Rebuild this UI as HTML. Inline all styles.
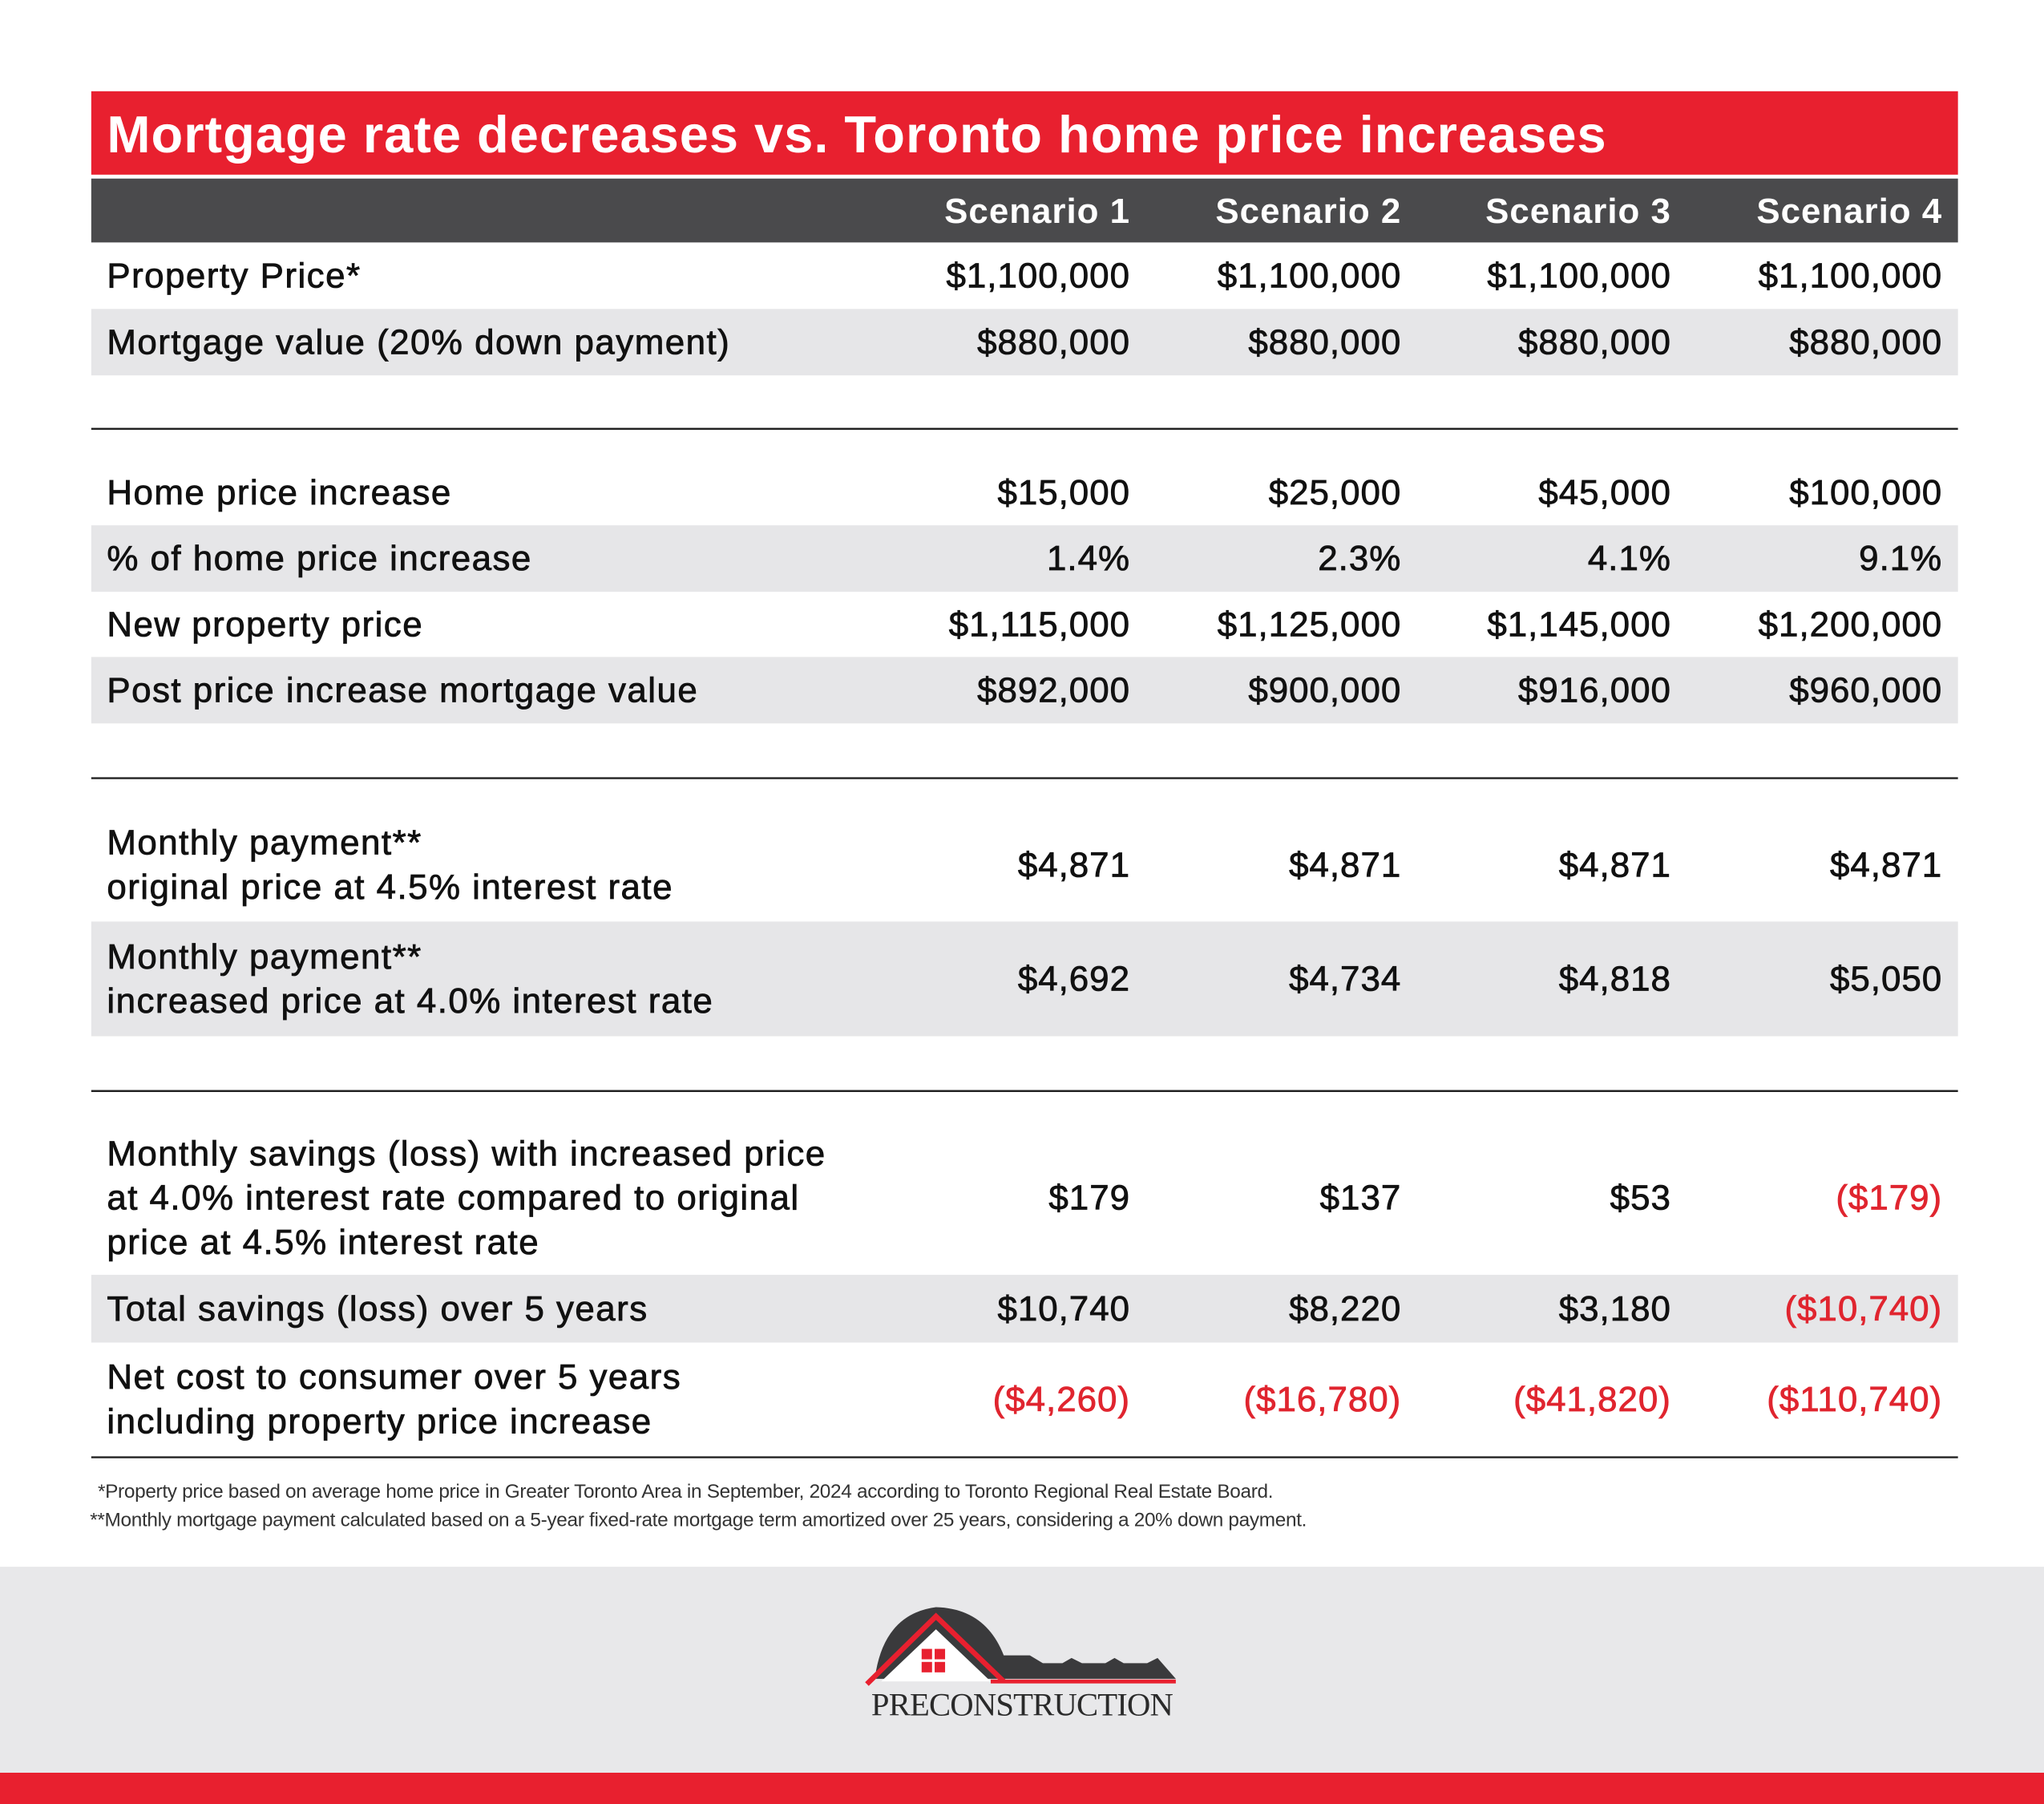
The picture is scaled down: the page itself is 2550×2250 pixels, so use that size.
<!DOCTYPE html>
<html><head><meta charset="utf-8"><style>
html,body{margin:0;padding:0;background:#fff}
svg{display:block}
text{font-family:"Liberation Sans",Arial,sans-serif}
</style></head><body>
<svg width="2550" height="2250" viewBox="0 0 1568 1384" preserveAspectRatio="none">
<rect x="0" y="0" width="1568" height="1384" fill="#fff"/>
<rect x="70" y="70" width="1432" height="64" fill="#e8202f"/>
<text x="82" y="117" font-size="40" font-weight="bold" fill="#fff" letter-spacing="0.6">Mortgage rate decreases vs. Toronto home price increases</text>
<rect x="70" y="137" width="1432" height="49" fill="#4a4a4c"/>
<g id="hdr" font-size="27" font-weight="bold" fill="#fff" text-anchor="end" letter-spacing="0.6"></g>
<g id="rows"></g>
<line x1="70" y1="329" x2="1502" y2="329" stroke="#222" stroke-width="1.5"/>
<line x1="70" y1="597" x2="1502" y2="597" stroke="#222" stroke-width="1.5"/>
<line x1="70" y1="837" x2="1502" y2="837" stroke="#222" stroke-width="1.5"/>
<line x1="70" y1="1118" x2="1502" y2="1118" stroke="#222" stroke-width="1.5"/>
<text x="75" y="1149" font-size="15" letter-spacing="-0.2" fill="#333">*Property price based on average home price in Greater Toronto Area in September, 2024 according to Toronto Regional Real Estate Board.</text>
<text x="69" y="1171" font-size="15" letter-spacing="-0.2" fill="#333">**Monthly mortgage payment calculated based on a 5-year fixed-rate mortgage term amortized over 25 years, considering a 20% down payment.</text>
<rect x="0" y="1202" width="1568" height="158" fill="#e8e8ea"/>
<rect x="0" y="1360" width="1568" height="24" fill="#e8202f"/>
<g>
<path d="M672 1282 Q680 1238 718 1233 Q756 1234 770 1270 L790 1270 L800 1276 L815 1276 L822 1272 L830 1276 L848 1276 L855 1272 L862 1276 L880 1276 L888 1272 L902 1288 L672 1288 Z" fill="#3a3a3c"/>
<path d="M665 1292 L718 1240 L770 1290" fill="none" stroke="#e8202f" stroke-width="4"/>
<path d="M676 1290 L718 1250 L760 1290 Z" fill="#fff"/>
<rect x="707" y="1265" width="8" height="8" fill="#e8202f"/><rect x="717" y="1265" width="8" height="8" fill="#e8202f"/>
<rect x="707" y="1275" width="8" height="8" fill="#e8202f"/><rect x="717" y="1275" width="8" height="8" fill="#e8202f"/>
<line x1="760" y1="1290" x2="902" y2="1290" stroke="#e8202f" stroke-width="3"/>
<text x="784" y="1316" font-size="25" letter-spacing="-0.5" text-anchor="middle" fill="#2a2a2a" style="font-family:'Liberation Serif',serif">PRECONSTRUCTION</text>
</g>
</svg>
<script>
const headers=["Scenario 1","Scenario 2","Scenario 3","Scenario 4"];
const labels=[["Property Price*"],["Mortgage value (20% down payment)"],["Home price increase"],["% of home price increase"],["New property price"],["Post price increase mortgage value"],["Monthly payment**","original price at 4.5% interest rate"],["Monthly payment**","increased price at 4.0% interest rate"],["Monthly savings (loss) with increased price","at 4.0% interest rate compared to original","price at 4.5% interest rate"],["Total savings (loss) over 5 years"],["Net cost to consumer over 5 years","including property price increase"]];
const values=[["$1,100,000","$1,100,000","$1,100,000","$1,100,000"],["$880,000","$880,000","$880,000","$880,000"],["$15,000","$25,000","$45,000","$100,000"],["1.4%","2.3%","4.1%","9.1%"],["$1,115,000","$1,125,000","$1,145,000","$1,200,000"],["$892,000","$900,000","$916,000","$960,000"],["$4,871","$4,871","$4,871","$4,871"],["$4,692","$4,734","$4,818","$5,050"],["$179","$137","$53","($179)"],["$10,740","$8,220","$3,180","($10,740)"],["($4,260)","($16,780)","($41,820)","($110,740)"]];
const rowTop=[186,237,353,403,454,504,620,707,860,978,1030];
const rowH=[51,51,50,51,50,51,87,88,118,52,87];
const shaded=[0,1,0,1,0,1,0,1,0,1,0];
const colRight=[867,1075,1282,1490];
const NS="http://www.w3.org/2000/svg";
const hdr=document.getElementById('hdr');
headers.forEach((h,i)=>{const t=document.createElementNS(NS,'text');
t.setAttribute('x',colRight[i]);t.setAttribute('y',171);t.textContent=h;


hdr.appendChild(t);});
const rows=document.getElementById('rows');
labels.forEach((lab,r)=>{
 const g=document.createElementNS(NS,'g');
 
 
 if(shaded[r]){const bg=document.createElementNS(NS,'rect');bg.setAttribute('x',70);bg.setAttribute('y',rowTop[r]);bg.setAttribute('width',1432);bg.setAttribute('height',rowH[r]);bg.setAttribute('fill','#e6e6e8');g.appendChild(bg);}
 const mid=rowTop[r]+rowH[r]/2;const lh=34;
 const y0=mid-(lab.length-1)*lh/2+9;
 lab.forEach((l,k)=>{const t=document.createElementNS(NS,'text');t.setAttribute('x',82);t.setAttribute('y',y0+k*lh);t.setAttribute('font-size','27');t.setAttribute('letter-spacing','0.9');t.setAttribute('fill','#111');t.setAttribute('stroke','#111');t.setAttribute('stroke-width','0.5');t.textContent=l;
 
 
 g.appendChild(t);});
 values[r].forEach((v,c)=>{const t=document.createElementNS(NS,'text');const col=v.startsWith('(')?'#e0252f':'#111';t.setAttribute('x',colRight[c]);t.setAttribute('y',mid+9);t.setAttribute('font-size','27');t.setAttribute('letter-spacing','0.6');t.setAttribute('text-anchor','end');t.setAttribute('fill',col);t.setAttribute('stroke',col);t.setAttribute('stroke-width','0.5');t.textContent=v;
 
 
 g.appendChild(t);});
 rows.appendChild(g);
});
</script>
</body></html>
